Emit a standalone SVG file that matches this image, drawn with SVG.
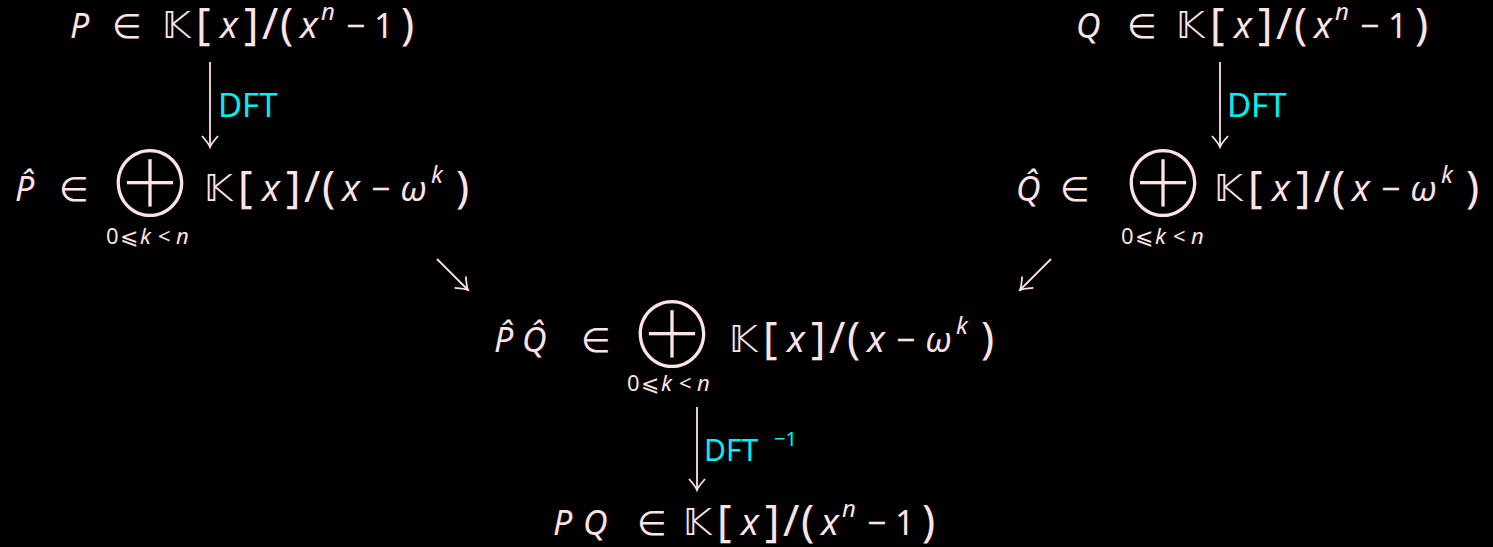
<svg xmlns="http://www.w3.org/2000/svg" width="1493" height="547" viewBox="0 0 1493 547">
<style>
text{font-family:"Noto Sans","DejaVu Sans",sans-serif;font-size:34px;fill:#ffe2e2}
.i{font-style:italic}
.x{font-size:37px;font-style:italic}
.d{font-size:44px}
.bb{font-family:"DejaVu Sans",sans-serif;font-size:38px}
.op{font-family:"Noto Sans CJK JP","DejaVu Sans",sans-serif;font-weight:100;font-size:90px}
.sup{font-size:24px;font-style:italic}
.sub{font-size:22px}
.lbl{fill:#00f0f0;font-size:33px}
.lbl2{fill:#00f0f0;font-size:30px}
.lsup{fill:#00f0f0;font-size:20px}
.c line{stroke:#ffe2e2;stroke-width:1.8;fill:none}
</style>
<defs>
<marker id="ah" viewBox="-14 -10 16 20" markerWidth="16" markerHeight="20" refX="0" refY="0" orient="auto" markerUnits="userSpaceOnUse">
<path d="M-11,-8 Q-3,-1 0,0 Q-3,1 -11,8" fill="none" stroke="#ffe2e2" stroke-width="1.8"/>
</marker>
</defs>
<rect width="1493" height="547" fill="#000"/>
<g id="nP">
<text y="38"><tspan x="70" class="i">P</tspan><tspan x="112">∈</tspan><tspan x="162" class="bb">𝕂</tspan><tspan x="196" class="d" dy="1">[</tspan><tspan x="220" class="x" dy="-1">x</tspan><tspan x="244" class="d" dy="1">]</tspan><tspan x="262" class="d">/</tspan><tspan x="280" class="d">(</tspan><tspan x="300" class="x" dy="-1">x</tspan><tspan x="321" class="sup" dy="-18">n</tspan><tspan x="346" dy="18">−</tspan><tspan x="374">1</tspan><tspan x="401" class="d" dy="1">)</tspan></text>
</g>
<g id="nQ">
<text y="38"><tspan x="1076" class="i">Q</tspan><tspan x="1127">∈</tspan><tspan x="1176" class="bb">𝕂</tspan><tspan x="1210" class="d" dy="1">[</tspan><tspan x="1234" class="x" dy="-1">x</tspan><tspan x="1258" class="d" dy="1">]</tspan><tspan x="1276" class="d">/</tspan><tspan x="1294" class="d">(</tspan><tspan x="1314" class="x" dy="-1">x</tspan><tspan x="1335" class="sup" dy="-18">n</tspan><tspan x="1360" dy="18">−</tspan><tspan x="1388">1</tspan><tspan x="1415" class="d" dy="1">)</tspan></text>
</g>
<g id="nPhat">
<text y="201"><tspan x="15" class="i">P̂</tspan><tspan x="59">∈</tspan><tspan x="204" class="bb">𝕂</tspan><tspan x="238" class="d" dy="1">[</tspan><tspan x="262" class="x" dy="-1">x</tspan><tspan x="286" class="d" dy="1">]</tspan><tspan x="304" class="d">/</tspan><tspan x="322" class="d">(</tspan><tspan x="342" class="x" dy="-1">x</tspan><tspan x="371">−</tspan><tspan x="400" class="i">ω</tspan><tspan x="431" class="sup" dy="-18">k</tspan><tspan x="456" class="d" dy="19">)</tspan></text>
<text x="150" y="217" class="op" text-anchor="middle">⊕</text>
<text y="244" class="sub"><tspan x="106">0</tspan><tspan x="120">⩽</tspan><tspan x="140" class="i">k</tspan><tspan x="158">&lt;</tspan><tspan x="176" class="i">n</tspan></text>
</g>
<g id="nQhat">
<text y="201"><tspan x="1016" class="i">Q̂</tspan><tspan x="1060">∈</tspan><tspan x="1214" class="bb">𝕂</tspan><tspan x="1248" class="d" dy="1">[</tspan><tspan x="1272" class="x" dy="-1">x</tspan><tspan x="1296" class="d" dy="1">]</tspan><tspan x="1314" class="d">/</tspan><tspan x="1332" class="d">(</tspan><tspan x="1352" class="x" dy="-1">x</tspan><tspan x="1381">−</tspan><tspan x="1410" class="i">ω</tspan><tspan x="1441" class="sup" dy="-18">k</tspan><tspan x="1466" class="d" dy="19">)</tspan></text>
<text x="1163" y="217" class="op" text-anchor="middle">⊕</text>
<text y="244" class="sub"><tspan x="1121">0</tspan><tspan x="1135">⩽</tspan><tspan x="1155" class="i">k</tspan><tspan x="1173">&lt;</tspan><tspan x="1191" class="i">n</tspan></text>
</g>
<g id="nPQhat">
<text y="352"><tspan x="494" class="i">P̂</tspan><tspan x="522" class="i">Q̂</tspan><tspan x="581">∈</tspan><tspan x="729" class="bb">𝕂</tspan><tspan x="763" class="d" dy="1">[</tspan><tspan x="787" class="x" dy="-1">x</tspan><tspan x="811" class="d" dy="1">]</tspan><tspan x="829" class="d">/</tspan><tspan x="847" class="d">(</tspan><tspan x="867" class="x" dy="-1">x</tspan><tspan x="896">−</tspan><tspan x="925" class="i">ω</tspan><tspan x="956" class="sup" dy="-18">k</tspan><tspan x="981" class="d" dy="19">)</tspan></text>
<text x="672" y="368" class="op" text-anchor="middle">⊕</text>
<text y="391" class="sub"><tspan x="627">0</tspan><tspan x="641">⩽</tspan><tspan x="661" class="i">k</tspan><tspan x="679">&lt;</tspan><tspan x="697" class="i">n</tspan></text>
</g>
<g id="nPQ">
<text y="535"><tspan x="553" class="i">P</tspan><tspan x="583" class="i">Q</tspan><tspan x="637">∈</tspan><tspan x="683" class="bb">𝕂</tspan><tspan x="717" class="d" dy="1">[</tspan><tspan x="741" class="x" dy="-1">x</tspan><tspan x="765" class="d" dy="1">]</tspan><tspan x="783" class="d">/</tspan><tspan x="801" class="d">(</tspan><tspan x="821" class="x" dy="-1">x</tspan><tspan x="842" class="sup" dy="-18">n</tspan><tspan x="867" dy="18">−</tspan><tspan x="895">1</tspan><tspan x="922" class="d" dy="1">)</tspan></text>
</g>
<g id="connectors" class="c">
<line x1="210" y1="62" x2="210" y2="147" marker-end="url(#ah)"/>
<line x1="1220" y1="62" x2="1220" y2="147" marker-end="url(#ah)"/>
<line x1="437" y1="259" x2="468" y2="290" marker-end="url(#ah)"/>
<line x1="1051" y1="259" x2="1020" y2="290" marker-end="url(#ah)"/>
<line x1="697" y1="407" x2="697" y2="490" marker-end="url(#ah)"/>
<text x="218" y="117" class="lbl">DFT</text>
<text x="1227" y="117" class="lbl">DFT</text>
<text x="704" y="461" class="lbl2">DFT</text>
<text x="774" y="446" class="lsup">−1</text>
</g>
</svg>
